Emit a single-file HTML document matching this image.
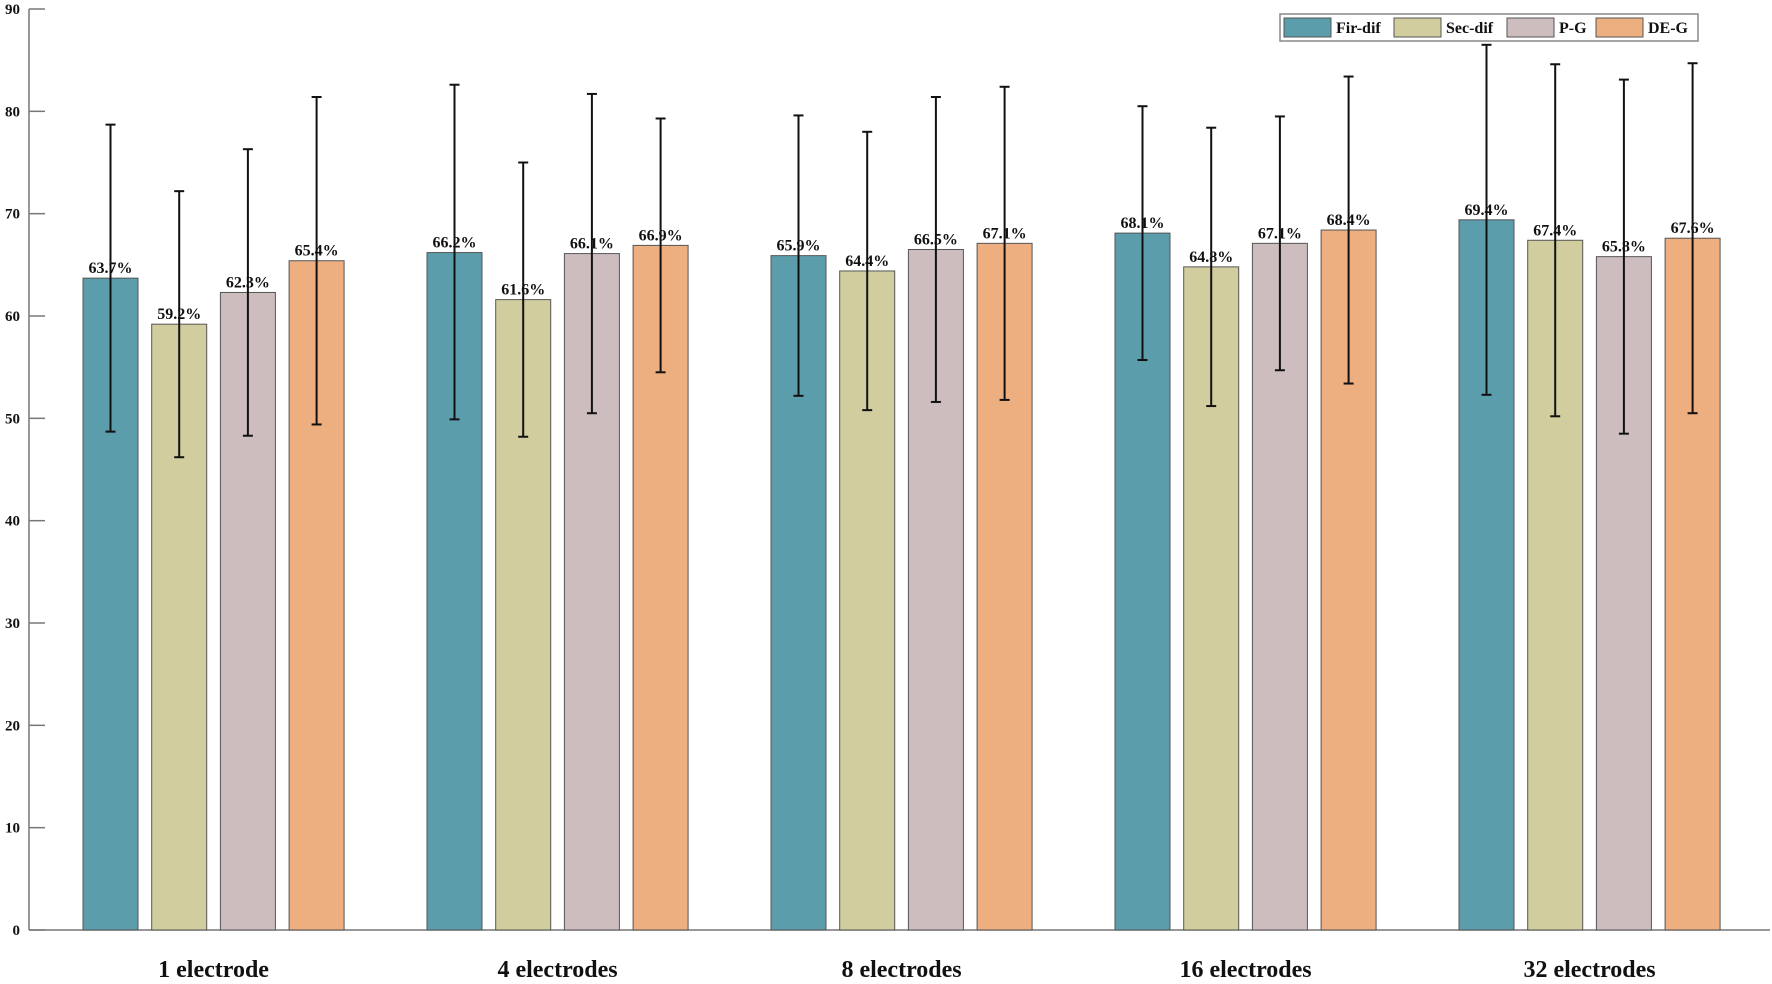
<!DOCTYPE html>
<html><head><meta charset="utf-8"><style>
html,body{margin:0;padding:0;background:#fff;}
svg{display:block;font-family:"Liberation Serif",serif;font-weight:bold;}
</style></head><body>
<svg id="chart" width="1772" height="984" viewBox="0 0 1772 984">
<g id="axes"></g><g id="bars"></g><g id="legend"></g>
</svg>
<script>
const categories = ["1 electrode","4 electrodes","8 electrodes","16 electrodes","32 electrodes"];
const seriesNames = ["Fir-dif","Sec-dif","P-G","DE-G"];
const firDif = [63.7,66.2,65.9,68.1,69.4];
const secDif = [59.2,61.6,64.4,64.8,67.4];
const pG = [62.3,66.1,66.5,67.1,65.8];
const deG = [65.4,66.9,67.1,68.4,67.6];
const firUpper = [78.7,82.6,79.6,80.5,86.5];
const firLower = [48.7,49.9,52.2,55.7,52.3];
const secUpper = [72.2,75.0,78.0,78.4,84.6];
const secLower = [46.2,48.2,50.8,51.2,50.2];
const pgUpper = [76.3,81.7,81.4,79.5,83.1];
const pgLower = [48.3,50.5,51.6,54.7,48.5];
const deUpper = [81.4,79.3,82.4,83.4,84.7];
const deLower = [49.4,54.5,51.8,53.4,50.5];
const yTicks = [0,10,20,30,40,50,60,70,80,90];

const values=[firDif,secDif,pG,deG], uppers=[firUpper,secUpper,pgUpper,deUpper], lowers=[firLower,secLower,pgLower,deLower];
const colors=["#5B9DAB","#D2CD9F","#CDBDBE","#EDAE80"];
const NS="http://www.w3.org/2000/svg";
const X0=29, X1=1770, Y0=930, YT=9;
function y(v){return Y0-(v/90)*(Y0-YT);}
const groupStart=83, groupStep=344, barStep=68.7, barW=55;
function barX(ci,si){return groupStart+ci*groupStep+si*barStep;}
function el(tag,attrs,parent,text){const e=document.createElementNS(NS,tag);for(const k in attrs)e.setAttribute(k,attrs[k]);if(text!==undefined)e.textContent=text;parent.appendChild(e);return e;}
const axes=document.getElementById('axes'), bars=document.getElementById('bars'), legend=document.getElementById('legend');

let a=el('line',{x1:X0,y1:YT,x2:X0,y2:Y0,stroke:'#777','stroke-width':1.5},axes);


a=el('line',{x1:X0,y1:Y0,x2:X1,y2:Y0,stroke:'#777','stroke-width':1.5},axes);


yTicks.forEach(t=>{
  const tk=el('line',{x1:X0,y1:y(t),x2:X0+16,y2:y(t),stroke:'#777','stroke-width':1.5},axes);
  
  
  const tl=el('text',{x:X0-9,y:y(t)+5,'text-anchor':'end','font-size':15,fill:'#111'},axes,String(t));
  
  
});
categories.forEach((c,ci)=>{
  const cx=barX(ci,0)+(3*barStep+barW)/2;
  const t=el('text',{x:cx,y:977,'text-anchor':'middle','font-size':24,fill:'#111'},axes,c);
  
  
  for(let si=0;si<4;si++){
    const v=values[si][ci], bx=barX(ci,si);
    const r=el('rect',{x:bx,y:y(v),width:barW,height:Y0-y(v),fill:colors[si],stroke:'#555','stroke-width':1},bars);
    
    
    const lbl=el('text',{x:bx+barW/2,y:y(v)-5,'text-anchor':'middle','font-size':16,fill:'#111'},bars,v.toFixed(1)+'%');
    
    
    const mx=bx+barW/2, yu=y(uppers[si][ci]), yl=y(lowers[si][ci]);
    const g=el('g',{stroke:'#111','stroke-width':2},bars);
    
    
    el('line',{x1:mx,y1:yu,x2:mx,y2:yl},g);
    el('line',{x1:mx-5,y1:yu,x2:mx+5,y2:yu},g);
    el('line',{x1:mx-5,y1:yl,x2:mx+5,y2:yl},g);
  }
});
const lb=el('rect',{x:1280,y:14,width:418,height:27,fill:'#fff',stroke:'#888','stroke-width':1.5},legend);


const lx=[1284,1394,1507,1596], tw=[48,47,33,34];
seriesNames.forEach((n,i)=>{
  const g=el('g',{},legend);
  
  
  el('rect',{x:lx[i],y:18,width:47,height:19,fill:colors[i],stroke:'#555','stroke-width':1},g);
  el('text',{x:lx[i]+52,y:33,'font-size':16,fill:'#111'},g,n);
});
</script>
</body></html>
